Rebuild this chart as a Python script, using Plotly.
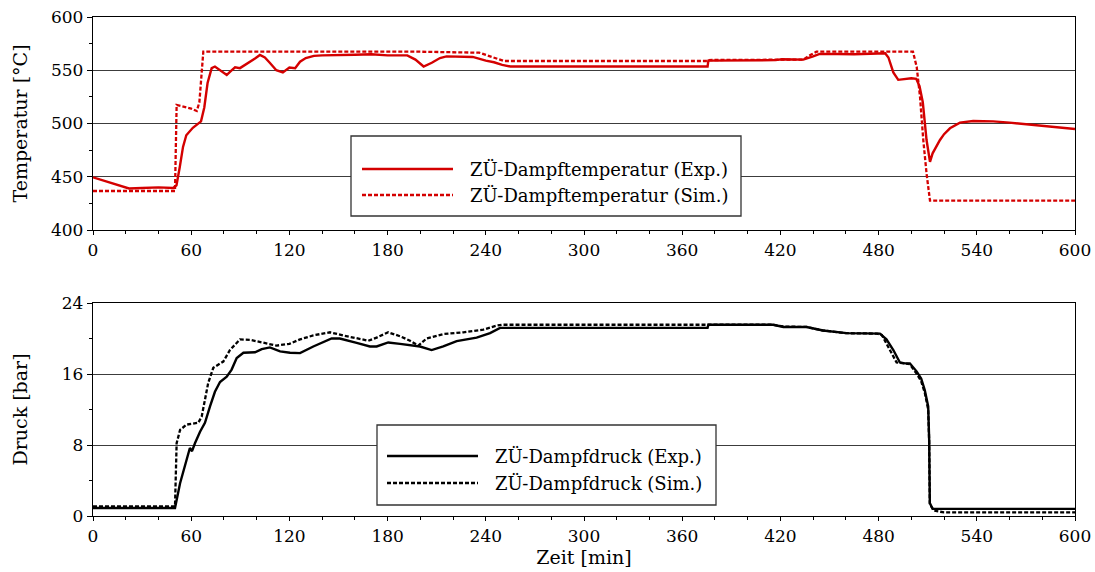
import plotly.graph_objects as go
from plotly.subplots import make_subplots

# ---------------- data ----------------
t_T_exp = [0, 10, 22, 30, 40, 49, 51, 53, 55, 57, 61, 66, 68, 70, 72.5, 74.5, 78, 81.7, 84, 86.8,
           89.8, 93, 96, 99, 102, 105, 108, 112, 116, 120, 123.5, 126.5, 130, 135, 140, 150, 160,
           170, 180, 188, 192, 197, 202, 207, 212, 216, 225, 232, 240, 245, 250, 255, 300, 350,
           375.5, 376, 390, 405, 417, 421, 428, 434, 440, 444, 455, 465, 475, 484, 486, 489, 492,
           496, 500, 503, 505, 507, 509.3, 511.4, 513, 517.5, 520, 523.6, 529.7, 537.8, 550, 560,
           580, 600]
T_exp = [449.5, 445, 439, 439.5, 440, 439.5, 442, 459, 478, 489, 496, 502, 515, 538, 552, 553.5,
         550, 545.5, 549, 552.8, 552, 555, 558, 561, 564.3, 562, 557, 550, 548, 552.5, 552, 558,
         561.5, 563.5, 564, 564, 564.5, 565, 564, 564, 564, 560, 553.5, 557, 561.5, 563, 563,
         562.5, 559, 557.5, 555, 553.5, 553.5, 553.5, 553.5, 559, 559, 559, 559.5, 560.3, 560,
         560, 563, 565.3, 565.3, 565, 565.5, 566, 562, 548, 541, 541.5, 542.5, 542, 535, 520,
         484.5, 464, 472, 484.5, 490, 495.5, 500.8, 502.3, 502, 500.8, 497.6, 494.8]

t_T_sim = [0, 50.1, 51.1, 55, 60, 63.4, 65, 67.4, 100, 150, 200, 236, 240, 244, 248, 251, 300,
           375.5, 376, 420, 434, 438, 442, 480, 501, 503.3, 505.3, 507.3, 509.3, 511.4, 600]
T_sim = [436.6, 436.6, 517.4, 516, 514, 511.7, 520, 567.4, 567.4, 567.5, 567.4, 566.5, 564.5,
         562, 560, 558.7, 558.7, 558.7, 559.6, 559.6, 560, 564, 567.4, 567.4, 567.4, 553, 525,
         484.5, 453, 427.5, 427.5]

t_P_exp = [0, 50.1, 53.2, 57.2, 59.2, 60.5, 62.3, 65.4, 68.4, 71.5, 74.5, 77.6, 81.7, 84.7, 87.8,
           91.9, 99, 103.1, 108.1, 114.3, 120.4, 126.5, 134.6, 145.8, 150.8, 161.1, 169.2, 173.3,
           180.4, 187.6, 195.7, 199.8, 206.9, 214, 222.2, 234.4, 242.6, 248.7, 300, 375.5, 376,
           415.7, 421.8, 436, 446, 460.4, 480.8, 484.8, 489, 493, 496, 499.1, 503.2, 506, 508.2,
           510.3, 510.9, 511.3, 513, 600]
P_exp = [0.9, 0.9, 3.7, 6.3, 7.66, 7.3, 8.2, 9.5, 10.5, 12.35, 14.0, 15.1, 15.7, 16.5, 17.8, 18.4,
         18.45, 18.8, 19.0, 18.55, 18.4, 18.35, 19.1, 20.0, 20.0, 19.5, 19.1, 19.1, 19.55, 19.4,
         19.2, 19.1, 18.7, 19.1, 19.7, 20.1, 20.6, 21.2, 21.2, 21.2, 21.55, 21.55, 21.3, 21.3,
         20.9, 20.6, 20.55, 19.9, 18.7, 17.3, 17.2, 17.2, 16.3, 15.5, 14.2, 12.35, 8.6, 1.46,
         0.8, 0.8]

t_P_sim = [0, 50.1, 51.1, 53.2, 57.2, 64.3, 66.4, 70.4, 73.5, 79.6, 83.7, 89.8, 95.9, 104, 112.2,
           120, 126.5, 134.6, 144.8, 152.8, 161, 168.2, 173.3, 180.4, 187.6, 193.7, 198.8, 203.8,
           214, 226.3, 238.5, 246.6, 250, 300, 376, 415, 422, 436, 446, 460, 479, 482, 486.9,
           491, 496, 499, 503, 506, 508.2, 510.3, 510.9, 511.3, 514, 520, 600]
P_sim = [1.08, 1.08, 8.2, 9.7, 10.3, 10.5, 11.2, 15.0, 16.7, 17.4, 18.7, 19.9, 19.85, 19.5, 19.2,
         19.4, 19.9, 20.35, 20.7, 20.35, 20.05, 19.75, 20.1, 20.7, 20.25, 19.75, 19.2, 20.0, 20.5,
         20.7, 21.0, 21.45, 21.55, 21.55, 21.55, 21.55, 21.35, 21.3, 20.9, 20.6, 20.55, 20.4,
         18.7, 17.3, 17.2, 17.1, 16.1, 15.2, 13.9, 12.0, 8.4, 1.3, 0.6, 0.4, 0.4]

x_ticks = [0, 60, 120, 180, 240, 300, 360, 420, 480, 540, 600]
T_ticks = [400, 450, 500, 550, 600]
P_ticks = [0, 8, 16, 24]

names_T = ["ZÜ-Dampftemperatur (Exp.)", "ZÜ-Dampftemperatur (Sim.)"]
names_P = ["ZÜ-Dampfdruck (Exp.)", "ZÜ-Dampfdruck (Sim.)"]

# ---------------- style ----------------
RED = "#d40000"
BLACK = "#000000"
FONT = "DejaVu Serif"
FS = 17      # tick labels
FT = 19      # axis titles
FL = 18      # legend text
W, H = 1095, 572
ML, MR, MT, MB = 93, 20, 17, 56
PW, PH = W - ML - MR, H - MT - MB


def px(x):
    return (x - ML) / PW


def py(y):
    return (H - MB - y) / PH


fig = make_subplots(rows=2, cols=1, vertical_spacing=0.0)
fig.update_layout(
    yaxis=dict(domain=[py(230), 1.0]),
    yaxis2=dict(domain=[0.0, py(303)]),
)

fig.add_trace(go.Scatter(x=t_T_exp, y=T_exp, mode="lines", name=names_T[0],
                         line=dict(color=RED, width=2.4)), row=1, col=1)
fig.add_trace(go.Scatter(x=t_T_sim, y=T_sim, mode="lines", name=names_T[1],
                         line=dict(color=RED, width=2.3, dash="4px,2px")), row=1, col=1)
fig.add_trace(go.Scatter(x=t_P_exp, y=P_exp, mode="lines", name=names_P[0],
                         line=dict(color=BLACK, width=2.4)), row=2, col=1)
fig.add_trace(go.Scatter(x=t_P_sim, y=P_sim, mode="lines", name=names_P[1],
                         line=dict(color=BLACK, width=2.3, dash="4px,2px")), row=2, col=1)

xcommon = dict(range=[0, 600], tickvals=x_ticks, ticks="outside", ticklen=4, tickcolor="black",
               showline=True, linecolor="black", linewidth=1.3, mirror=True, showgrid=False,
               zeroline=False, automargin=False,
               minor=dict(dtick=20, tick0=0, ticks="outside", ticklen=3,
                          tickcolor="black", showgrid=False),
               tickfont=dict(family=FONT, size=FS, color="black"))
fig.update_xaxes(**xcommon)
fig.update_xaxes(title=dict(text="Zeit [min]", font=dict(family=FONT, size=FT, color="black"),
                            standoff=2), row=2, col=1)

ycommon = dict(ticks="outside", ticklen=5, tickcolor="black", showline=True, linecolor="black",
               linewidth=1.3, mirror=True, showgrid=True, gridcolor="#3c3c3c", gridwidth=1,
               zeroline=False, automargin=False,
               tickfont=dict(family=FONT, size=FS, color="black"))
fig.update_yaxes(**ycommon)
fig.update_yaxes(range=[400, 600], tickvals=T_ticks,
                 minor=dict(dtick=25, tick0=400, ticks="outside", ticklen=3, tickcolor="black",
                            showgrid=False),
                 title=dict(text="Temperatur [°C]", font=dict(family=FONT, size=FT, color="black"),
                            standoff=18), row=1, col=1)
fig.update_yaxes(range=[0, 24], tickvals=P_ticks,
                 minor=dict(dtick=4, tick0=0, ticks="outside", ticklen=3, tickcolor="black",
                            showgrid=False),
                 title=dict(text="Druck [bar]", font=dict(family=FONT, size=FT, color="black"),
                            standoff=29), row=2, col=1)

# ---------------- hand-drawn legends (long sample lines as in the original) ----------------
shapes = []
annotations = []


def legend_box(x0, x1, y0, y1, lx0, lx1, ys, tx, color, names):
    shapes.append(dict(type="rect", xref="paper", yref="paper", x0=px(x0), x1=px(x1),
                       y0=py(y1), y1=py(y0), fillcolor="white",
                       line=dict(color="#333333", width=1.3), layer="above"))
    for i, yy in enumerate(ys):
        shapes.append(dict(type="line", xref="paper", yref="paper", x0=px(lx0), x1=px(lx1),
                           y0=py(yy), y1=py(yy), layer="above",
                           line=dict(color=color, width=2.4 if i == 0 else 2.3,
                                     dash="solid" if i == 0 else "4px,2px")))
        annotations.append(dict(xref="paper", yref="paper", x=px(tx), y=py(yy), text=names[i],
                                showarrow=False, xanchor="left", yanchor="middle",
                                font=dict(family=FONT, size=FL, color="black")))


legend_box(351, 741, 136, 216, 362, 453, [169, 195], 468, RED, names_T)
legend_box(377, 716, 425, 505, 387, 478, [456, 483], 493, BLACK, names_P)

fig.update_layout(
    width=W, height=H, margin=dict(l=ML, r=MR, t=MT, b=MB, autoexpand=False),
    paper_bgcolor="white", plot_bgcolor="white", showlegend=False,
    shapes=shapes, annotations=annotations,
    font=dict(family=FONT, size=FS, color="black"),
)

fig.write_html("out.html")
